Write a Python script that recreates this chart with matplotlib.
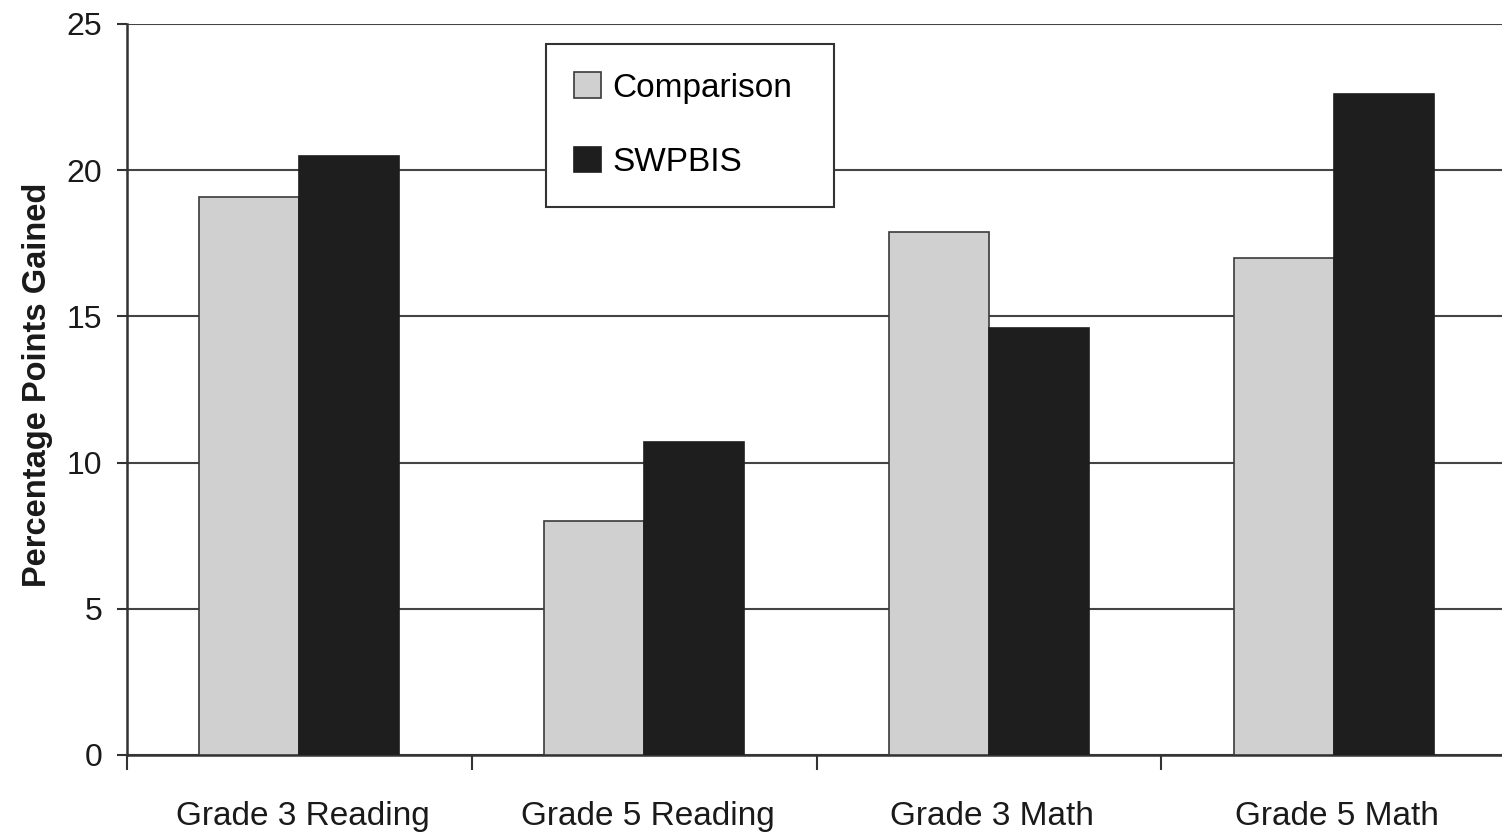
import numpy as np
import matplotlib
matplotlib.use("Agg")
import matplotlib.pyplot as plt

plt.rcParams['font.family'] = ['Liberation Sans', 'DejaVu Sans']

# data
categories = ["Grade 3 Reading", "Grade 5 Reading", "Grade 3 Math", "Grade 5 Math"]
comparison = [19.1, 8.0, 17.9, 17.0]
swpbis = [20.5, 10.7, 14.6, 22.6]
series_names = ["Comparison", "SWPBIS"]
yticks = [0, 5, 10, 15, 20, 25]

fig = plt.figure(figsize=(15.02, 8.32), dpi=100)
W, H = 1502, 832
ax = fig.add_axes([127 / W, 77 / H, 1379 / W, 731 / H])

x = np.arange(len(categories))
bw = 0.29
ax.bar(x - bw / 2, comparison, bw, color='#d0d0d0', edgecolor='#3a3a3a', linewidth=1.2,
       label=series_names[0], zorder=3)
ax.bar(x + bw / 2, swpbis, bw, color='#1e1e1e', edgecolor='#1e1e1e', linewidth=1.2,
       label=series_names[1], zorder=3)

ax.set_xlim(-0.5, len(categories) - 0.5)
ax.set_ylim(0, 25)

# gridlines
ax.set_yticks(yticks)
ax.yaxis.grid(True, color='#444444', linewidth=1.5, zorder=0)
ax.set_axisbelow(True)

for s in ['top', 'right']:
    ax.spines[s].set_visible(False)
for s in ['left', 'bottom']:
    ax.spines[s].set_color('#333333')
    ax.spines[s].set_linewidth(1.8)

ax.tick_params(axis='y', length=7, width=1.5, color='#333333', pad=11,
               labelsize=23, labelcolor='#1a1a1a')

# category boundaries as major ticks, labels on minor ticks
ax.set_xticks(np.arange(-0.5, len(categories), 1.0))
ax.set_xticklabels([])
ax.set_xticks(x + 0.01, minor=True)
ax.set_xticklabels(categories, minor=True)
ax.tick_params(axis='x', which='major', length=11, width=1.5, color='#333333')
ax.tick_params(axis='x', which='minor', length=0, pad=33, labelsize=24, labelcolor='#1a1a1a')

ax.set_ylabel("Percentage Points Gained", fontsize=23.5, fontweight='bold', color='#1a1a1a')
ax.yaxis.set_label_coords(-0.054, 0.506)

leg = ax.legend(loc='upper left', bbox_to_anchor=(546 / W, 1 - 201 / H, 288 / W, 157 / H),
                bbox_transform=fig.transFigure, mode='expand', fontsize=24, frameon=True,
                fancybox=False, framealpha=1, edgecolor='#333333',
                handlelength=0.8, handleheight=0.8, handletextpad=0.35,
                labelspacing=1.3, borderpad=0.85, borderaxespad=0)
leg.get_frame().set_linewidth(1.5)

fig.savefig("out.png", dpi=100)
